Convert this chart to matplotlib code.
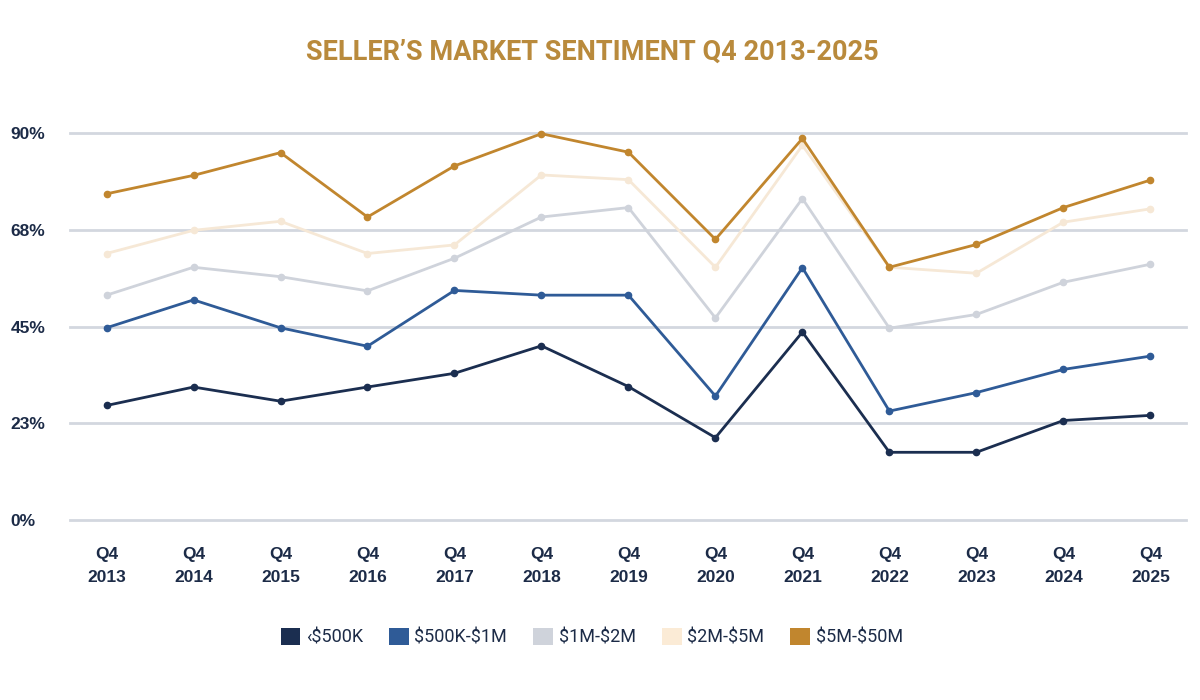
import matplotlib.pyplot as plt
from matplotlib.patches import Patch

# Data (percent of sellers)
years = ['2013', '2014', '2015', '2016', '2017', '2018', '2019',
         '2020', '2021', '2022', '2023', '2024', '2025']
under_500k = [26.6, 30.9, 27.6, 30.9, 34.1, 40.5, 31.0, 19.1, 43.7, 15.7, 15.7, 23.1, 24.3]
k500_1m = [44.7, 51.2, 44.7, 40.4, 53.4, 52.3, 52.3, 28.8, 58.7, 25.3, 29.6, 35.0, 38.1]
m1_2m = [52.3, 58.8, 56.6, 53.3, 60.9, 70.5, 72.7, 47.0, 74.8, 44.6, 47.8, 55.3, 59.5]
m2_5m = [62.0, 67.4, 69.5, 62.0, 64.0, 80.3, 79.2, 58.8, 87.2, 58.8, 57.4, 69.3, 72.4]
m5_50m = [75.9, 80.2, 85.5, 70.5, 82.4, 89.9, 85.6, 65.3, 88.8, 58.8, 64.1, 72.7, 79.1]

series_labels = ['\u2039\\$500K', '\\$500K-\\$1M', '\\$1M-\\$2M', '\\$2M-\\$5M', '\\$5M-\\$50M']
series_colors = ['#1B2E50', '#2F5B97', '#CFD3DB', '#FBEBD6', '#C1862E']
yticks = [0, 22.5, 45, 67.5, 90]
ytick_labels = ['0%', '23%', '45%', '68%', '90%']

text_color = '#1C2B47'
plt.rcParams['font.family'] = ['Liberation Sans', 'DejaVu Sans']

fig = plt.figure(figsize=(12, 7), dpi=100)
ax = fig.add_axes([70 / 1200, 1 - 519.7 / 700, 1116 / 1200, (519.7 - 133.3) / 700])

x = list(range(len(years)))
all_series = [under_500k, k500_1m, m1_2m, m2_5m, m5_50m]
for i, (values, color, label) in enumerate(zip(all_series, series_colors, series_labels)):
    line_color = '#F6E8D6' if i == 3 else color
    ax.plot(x, values, '-o', color=line_color, lw=2, markersize=4.5,
            clip_on=False, zorder=3)

ax.set_xlim(-0.42, 12.41)
ax.set_ylim(0, 90)

ax.set_yticks(yticks, ytick_labels)
for lbl in ax.get_yticklabels():
    lbl.set_ha('left')
    lbl.set_fontweight('bold')
ax.tick_params(axis='y', length=0, pad=43, labelsize=12.5, labelcolor=text_color)

ax.set_xticks(x, ['Q4\n' + y for y in years])
ax.tick_params(axis='x', length=0, pad=20, labelsize=12.5, labelcolor=text_color)
for lbl in ax.get_xticklabels():
    lbl.set_fontweight('bold')
    lbl.set_linespacing(1.6)

ax.grid(axis='y', color='#D3D7DF', lw=2)
for gl in ax.get_ygridlines():
    gl.set_clip_on(False)
ax.set_axisbelow(True)
for s in ax.spines.values():
    s.set_visible(False)

fig.text(0.494, 1 - 52 / 700, "SELLER\u2019S MARKET SENTIMENT Q4 2013-2025",
         ha='center', va='center', fontsize=19.5, fontweight='bold',
         color='#B98A3C', family=['Roboto', 'DejaVu Sans'])

handles = [Patch(facecolor=c, edgecolor='none') for c in series_colors]
fig.legend(handles, series_labels, loc='center', bbox_to_anchor=(0.493, 1 - 637 / 700),
           ncol=5, frameon=False, handlelength=1.1, handleheight=1.1,
           handletextpad=0.3, columnspacing=1.45, labelcolor=text_color,
           prop={'family': ['Roboto', 'DejaVu Sans'], 'size': 13})

fig.savefig('out.png', dpi=100, facecolor='white')
